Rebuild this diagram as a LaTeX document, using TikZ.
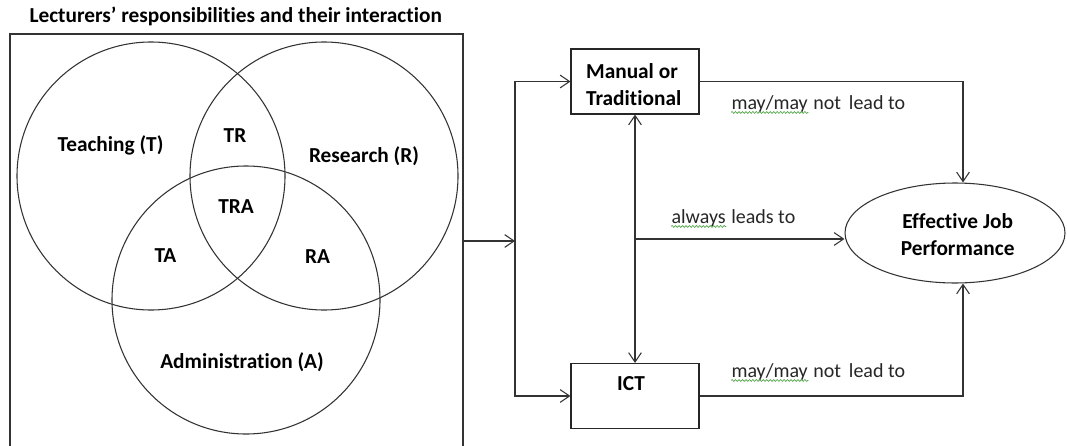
\documentclass[tikz,border=0pt]{standalone}
\usepackage{fontspec}
\setmainfont{Carlito}[Ligatures = {NoCommon}]
\usetikzlibrary{arrows.meta}
\usetikzlibrary{shapes.geometric}
\usetikzlibrary{positioning}
\usetikzlibrary{decorations.pathmorphing}

\definecolor{spellgreen}{RGB}{80,165,70}

\begin{document}
\begin{tikzpicture}[x = 0.75pt, y = -0.75pt, font = \fontsize{15}{20}\selectfont, line width = 0.8pt,
	>={Straight Barb[length = 7pt, width = 9.5pt]}]
	\tikzstyle{setStyle} = [shape = circle, minimum size = 201pt, inner sep = 0pt, draw = black!80]
	\tikzstyle{tagStyle} = [font = \fontsize{16}{20.25}\selectfont\bfseries, inner sep = 0pt, anchor = base]
	\tikzstyle{boxStyle} = [shape = rectangle, minimum width = 96pt, minimum height = 48.75pt, draw = black!85]
	\tikzstyle{noteStyle} = [inner sep = 0pt, anchor = base west, text = black!85]
	\tikzstyle{flowStyle} = [draw = black!80]
	\tikzstyle{spellStyle} = [draw = spellgreen, line width = 0.5pt, decorate,
		decoration = {snake, amplitude = 0.7pt, segment length = 2.6pt}]
	\useasboundingbox (0,0) rectangle (1067,446);
	% left panel: the three responsibilities
	\node[tagStyle, anchor = base west] (title) at (29,22.5) {Lecturers’ responsibilities and their interaction};
	\draw[flowStyle] (10,446) -- (10,34) -- (463,34) -- (463,446);
	\node[setStyle] (teach) at (151,176) {};
	\node[setStyle] (research) at (324,176) {};
	\node[setStyle] (admin) at (246,300) {};
	\node[tagStyle] (tlabel) at (110.5,151.5) {Teaching (T)};
	\node[tagStyle] (rlabel) at (364,162) {Research (R)};
	\node[tagStyle] (alabel) at (242,368) {Administration (A)};
	\node[tagStyle] (tr) at (235,142) {TR};
	\node[tagStyle] (tra) at (236,213) {TRA};
	\node[tagStyle] (ta) at (165.5,262) {TA};
	\node[tagStyle] (ra) at (317.5,263) {RA};
	% right panel: the two ways of working
	\node[boxStyle] (manual) at (635,81.5) {};
	\node[tagStyle, align = left, below = 11pt of manual.north, xshift = -1pt] (manualname) {Manual or\\Traditional};
	\node[boxStyle] (ict) at (635,396) {};
	\node[tagStyle, below = 9.75pt of ict.north, xshift = -3pt] (ictname) {ICT};
	\node[shape = ellipse, minimum width = 165pt, minimum height = 75pt, inner sep = 0pt, draw = black!80] (perf) at (955,233) {};
	\node[tagStyle, align = center, below = 23pt of perf.north, xshift = 2pt] (perfname) {Effective Job\\Performance};
	\coordinate (vennout) at (463,241);
	\coordinate (split) at (515,241);
	\coordinate (tap) at (635,239);
	\draw[flowStyle, ->] (vennout) -- (split);
	\draw[flowStyle, ->] (split) |- (manual.west);
	\draw[flowStyle, ->] (split) |- (ict.west);
	\draw[flowStyle, <->] (manual) -- (ict);
	\draw[flowStyle, ->] (tap) -- (tap -| perf.west);
	\draw[flowStyle, ->] (manual.east) -| ([xshift = 6pt]perf.north);
	\draw[flowStyle, ->] (ict.east) -| ([xshift = 6pt]perf.south);
	% edge labels, with the spelling marks under them
	\node[noteStyle] (maytop) at (731,109) {may/may};
	\node[noteStyle, right = 3.4pt of maytop.base east, anchor = base west] (maytoprest) {not\,\ lead to};
	\node[noteStyle] (always) at (671,223) {always};
	\node[noteStyle, right = 3.4pt of always.base east, anchor = base west] (alwaysrest) {leads to};
	\node[noteStyle] (maybottom) at (731,377) {may/may};
	\node[noteStyle, right = 3.4pt of maybottom.base east, anchor = base west] (maybottomrest) {not\,\ lead to};
	\draw[spellStyle] ([yshift = -2.6pt]maytop.base west) -- ([yshift = -2.6pt]maytop.base east);
	\draw[spellStyle] ([yshift = -2.6pt]always.base west) -- ([yshift = -2.6pt]always.base east);
	\draw[spellStyle] ([yshift = -2.6pt]maybottom.base west) -- ([yshift = -2.6pt]maybottom.base east);
\end{tikzpicture}
\end{document}
